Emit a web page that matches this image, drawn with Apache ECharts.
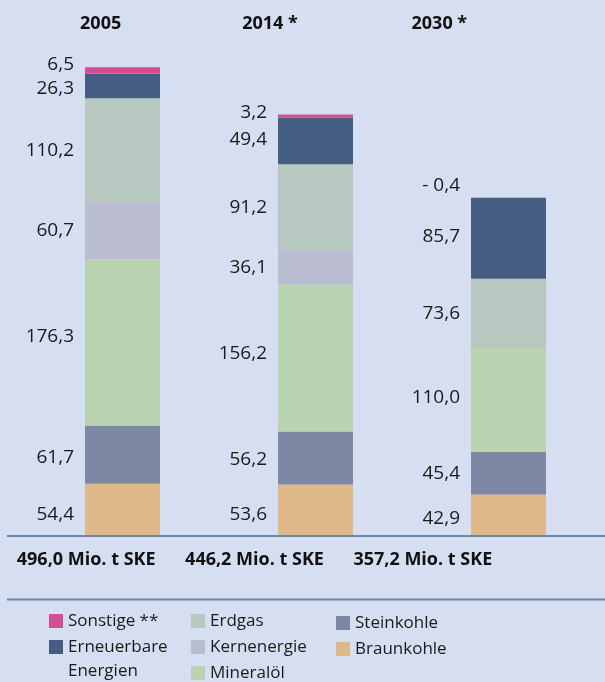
<!DOCTYPE html>
<html>
<head>
<meta charset="utf-8">
<script src="https://cdn.jsdelivr.net/npm/echarts@6/dist/echarts.min.js"></script>
<style>
html,body{margin:0;padding:0;background:#d6dff1;}
#chart{width:605px;height:682px;}
</style>
</head>
<body>
<div id="chart"></div>
<script>
// ---- Data ----
const years = ['2005', '2014 *', '2030 *'];
const totals = ['496,0 Mio. t SKE', '446,2 Mio. t SKE', '357,2 Mio. t SKE'];
const braunkohle = [54.4, 53.6, 42.9];
const steinkohle = [61.7, 56.2, 45.4];
const mineraloel = [176.3, 156.2, 110.0];
const kernenergie = [60.7, 36.1, 0];
const erdgas = [110.2, 91.2, 73.6];
const erneuerbare = [26.3, 49.4, 85.7];
const sonstige = [6.5, 3.2, -0.4];

const seriesDefs = [
  {name: 'Braunkohle', data: braunkohle, color: '#dfb88a'},
  {name: 'Steinkohle', data: steinkohle, color: '#7e88a4'},
  {name: 'Mineralöl', data: mineraloel, color: '#bad4b2'},
  {name: 'Kernenergie', data: kernenergie, color: '#babdd2'},
  {name: 'Erdgas', data: erdgas, color: '#b7c8c1'},
  {name: 'Erneuerbare Energien', data: erneuerbare, color: '#465d82'},
  {name: 'Sonstige **', data: sonstige, color: '#d24f93'}
];

// label fine tuning (style only)
const labelOffsets = {
  'Braunkohle': [[0,5],[0,5],[0,4]],
  'Steinkohle': [[0,3],[0,2],[0,0]],
  'Mineralöl': [[0,-6],[0,-4],[0,-2]],
  'Sonstige **': [[0,-6],[0,-3],[0,-12]],
  'Erneuerbare Energien': [[0,3],[0,-1],[0,-2]]
};

function fmt(v) {
  if (v == null || v === 0) return '';
  const s = Math.abs(v).toFixed(1).replace('.', ',');
  return v < 0 ? '- ' + s : s;
}

const series = seriesDefs.map(d => ({
  name: d.name,
  type: 'bar',
  stack: 'total',
  stackStrategy: 'all',
  barWidth: 75,
  xAxisIndex: 0,
  yAxisIndex: 0,
  itemStyle: {color: d.color},
  label: {
    show: true,
    position: 'left',
    distance: 11,
    color: '#1a1a1a',
    fontFamily: 'Open Sans',
    fontSize: 19,
    formatter: p => fmt(p.value)
  },
  data: d.data.map((v, i) => {
    const item = {value: v};
    const off = labelOffsets[d.name];
    if (off) item.label = {offset: off[i]};
    if (v < 0) item.itemStyle = {color: 'rgba(0,0,0,0)'};
    return item;
  })
}));

const chart = echarts.init(document.getElementById('chart'), null, {renderer: 'canvas'});

const legendText = {fontFamily: 'Open Sans', fontSize: 17, color: '#1a1a1a', lineHeight: 20};
const legendBase = {
  orient: 'vertical', icon: 'rect', itemWidth: 14, itemHeight: 14,
  itemGap: 6, padding: 0, height: 120, textStyle: legendText, selectedMode: false
};

chart.setOption({
  backgroundColor: '#d6dff1',
  animation: false,
  grid: [
    {left: 26, width: 580, top: 7, bottom: 147},
    {left: 16, width: 508, top: 30, height: 1},
    {left: 2, width: 505, top: 541, height: 1}
  ],
  xAxis: [
    {type: 'category', data: years, gridIndex: 0, show: false},
    {type: 'category', data: years, gridIndex: 1, position: 'top',
     axisLine: {show: false}, axisTick: {show: false},
     axisLabel: {interval: 0, margin: 6, verticalAlign: 'middle', color: '#111', fontFamily: 'Open Sans', fontWeight: 'bold', fontSize: 18}},
    {type: 'category', data: totals, gridIndex: 2, position: 'bottom',
     axisLine: {show: false}, axisTick: {show: false},
     axisLabel: {interval: 0, hideOverlap: false, margin: 18, verticalAlign: 'middle', color: '#111', fontFamily: 'Open Sans', fontWeight: 'bold', fontSize: 18}}
  ],
  yAxis: [
    {type: 'value', min: 0, max: 560, gridIndex: 0, show: false},
    {type: 'value', gridIndex: 1, show: false},
    {type: 'value', gridIndex: 2, show: false}
  ],
  legend: [
    Object.assign({}, legendBase, {left: 49, top: 611, data: ['Sonstige **', 'Erneuerbare Energien'],
      formatter: n => n === 'Erneuerbare Energien' ? 'Erneuerbare' : n}),
    Object.assign({}, legendBase, {left: 191, top: 611, data: ['Erdgas', 'Kernenergie', 'Mineralöl']}),
    Object.assign({}, legendBase, {left: 336, top: 613, data: ['Steinkohle', 'Braunkohle']})
  ],
  graphic: [
    {type: 'line', shape: {x1: 7, y1: 536, x2: 605, y2: 536}, style: {stroke: '#6d88a8', lineWidth: 2}, silent: true},
    {type: 'line', shape: {x1: 7, y1: 599.5, x2: 605, y2: 599.5}, style: {stroke: '#6d88a8', lineWidth: 2}, silent: true},
    {type: 'text', left: 68, top: 663, style: {text: 'Energien', fontFamily: 'Open Sans', fontSize: 17, fill: '#1a1a1a'}, silent: true}
  ],
  series: series
});
</script>
</body>
</html>
